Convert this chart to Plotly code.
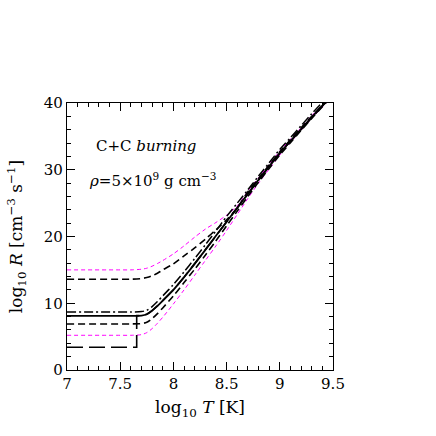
import plotly.graph_objects as go

# log10 T grid
logT = [7.0, 7.5, 7.6, 7.7, 7.75, 7.8, 7.85, 7.9, 8.0, 8.1, 8.2, 8.3, 8.4,
        8.5, 8.6, 8.7, 8.8, 8.9, 9.0, 9.1, 9.2, 9.3, 9.4, 9.5]

# log10 R for each curve
r_solid = [8.1, 8.1, 8.1, 8.15, 8.35, 8.9, 9.6, 10.4, 12.0, 13.9, 15.9, 18.0, 20.1,
           22.2, 24.3, 26.4, 28.5, 30.5, 32.5, 34.3, 36.1, 37.9, 39.6, 41.3]
r_dashdot = [8.7, 8.7, 8.7, 8.75, 8.95, 9.5, 10.25, 11.1, 12.8, 14.7, 16.7, 18.75, 20.85,
             23.0, 25.0, 27.0, 29.05, 31.05, 33.05, 34.8, 36.6, 38.4, 40.1, 41.8]
r_dash_lo = [6.9, 6.9, 6.9, 6.95, 7.15, 7.7, 8.45, 9.3, 11.1, 13.1, 15.1, 17.2, 19.35,
             21.6, 23.8, 26.0, 28.15, 30.2, 32.2, 34.05, 35.9, 37.7, 39.45, 41.15]
r_dash_hi = [13.6, 13.6, 13.6, 13.7, 13.85, 14.1, 14.5, 15.0, 15.9, 17.1, 18.3, 19.6, 21.0,
             22.5, 24.3, 26.7, 28.7, 30.7, 32.7, 34.5, 36.3, 38.0, 39.7, 41.4]
r_mag_lo = [5.2, 5.2, 5.2, 5.3, 5.6, 6.2, 7.0, 7.9, 9.9, 12.0, 14.2, 16.4, 18.6,
            20.9, 23.3, 25.7, 28.0, 30.1, 32.2, 34.1, 35.9, 37.7, 39.4, 41.1]
r_mag_hi = [15.0, 15.0, 15.0, 15.1, 15.25, 15.55, 15.95, 16.4, 17.4, 18.6, 19.9, 21.1, 22.1,
            23.2, 24.6, 26.8, 28.8, 30.8, 32.8, 34.6, 36.3, 38.1, 39.7, 41.4]

# long-dashed curve: low plateau, jump at T_cut, then on top of the solid one
t_cut = 7.655
r_low = 3.4

FONT = "DejaVu Serif"

fig = go.Figure()

def add(y, color, dash, width, x=logT, shape="spline"):
    fig.add_trace(go.Scatter(x=x, y=y, mode="lines",
                             line=dict(color=color, dash=dash, width=width,
                                       shape=shape, smoothing=0.8),
                             showlegend=False, hoverinfo="skip"))

add(r_mag_hi, "magenta", "4px,3px", 1)
add(r_mag_lo, "magenta", "4px,3px", 1)
add(r_dash_hi, "black", "7px,4px", 1.6)
add(r_dash_lo, "black", "7px,4px", 1.6)
add(r_dashdot, "black", "9px,3px,2px,3px", 1.5)

x_long = [7.0, t_cut, t_cut] + [t for t in logT if t > t_cut]
y_long = [r_low, r_low, r_solid[3]] + [r for t, r in zip(logT, r_solid) if t > t_cut]
add(y_long, "black", "16px,6px", 1.6, x=x_long, shape="linear")
add(r_solid, "black", "solid", 1.8)

axis = dict(showline=True, linecolor="black", linewidth=1.2, mirror="ticks",
            ticks="inside", ticklen=8, tickwidth=1, tickcolor="black",
            showgrid=False, zeroline=False, automargin=False,
            tickfont=dict(family=FONT, size=15, color="black"))

fig.update_xaxes(range=[7, 9.5], dtick=0.5, tick0=7,
                 minor=dict(dtick=0.1, ticks="inside", ticklen=4, tickcolor="black"),
                 title=dict(text="log<sub>10</sub> <i>T</i> [K]",
                            font=dict(family=FONT, size=17, color="black"), standoff=9),
                 **axis)
fig.update_yaxes(range=[0, 40], dtick=10, tick0=0,
                 minor=dict(dtick=2, ticks="inside", ticklen=4, tickcolor="black"),
                 title=dict(text="log<sub>10</sub> <i>R</i> [cm<sup>−3</sup> s<sup>−1</sup>]",
                            font=dict(family=FONT, size=17, color="black"), standoff=16),
                 **axis)

fig.add_annotation(x=7.25, y=33.6, xanchor="left", yanchor="middle", showarrow=False,
                   text="C+C <i>burning</i>", font=dict(family=FONT, size=15, color="black"))
fig.add_annotation(x=7.19, y=28.5, xanchor="left", yanchor="middle", showarrow=False,
                   text="<i>ρ</i>=5×10<sup>9</sup> g cm<sup>−3</sup>",
                   font=dict(family=FONT, size=15, color="black"))

fig.update_layout(width=436, height=436, margin=dict(l=67, r=103, t=103, b=66),
                  plot_bgcolor="white", paper_bgcolor="white")

# drop the default page margin so the figure sits at the window corner
fig.write_html("out.html", config={"displayModeBar": False},
               post_script="document.body.style.margin='0';")
